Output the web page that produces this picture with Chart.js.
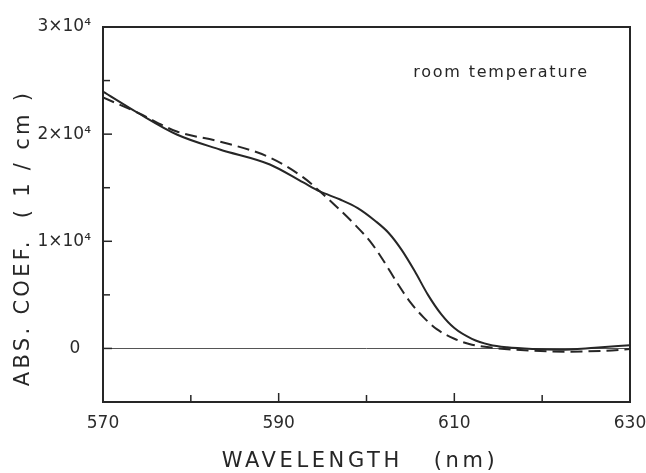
<!DOCTYPE html>
<html>
<head>
<meta charset="utf-8">
<script src="https://cdn.jsdelivr.net/npm/chart.js@4.4.1/dist/chart.umd.min.js"></script>
<style>
  html, body { margin: 0; padding: 0; background: #fff; }
  #wrap { width: 646px; height: 473px; }
</style>
</head>
<body>
<div id="wrap"><canvas id="absChart" width="646" height="473"></canvas></div>
<script>
// values (wavelength in nm, abs. coef. in 1/cm)
const solidX = [570.0, 573.9, 578.4, 583.3, 589.0, 592.8, 594.7, 597.0, 599.0, 601.0, 602.5, 604.0, 605.5, 607.0, 608.5, 610.0, 612.0, 614.0, 616.0, 619.0, 622.0, 626.0, 630.0];
const solidY = [23980, 22020, 19970, 18570, 17170, 15490, 14650, 13900, 13100, 11900, 10800, 9200, 7200, 5000, 3200, 1900, 900, 350, 100, -60, -120, 60, 300];
const dashX = [570.0, 573.9, 578.4, 583.3, 589.0, 592.8, 594.7, 596.5, 598.5, 600.5, 602.0, 603.5, 605.0, 606.5, 608.0, 610.0, 612.0, 614.5, 619.0, 623.0, 627.0, 630.0];
const dashY = [23420, 22020, 20250, 19310, 17820, 15960, 14650, 13300, 11700, 9900, 8100, 6100, 4300, 2900, 1800, 900, 350, 50, -220, -300, -220, -60];

const xTickLabels = [570, 590, 610, 630];
const yTickLabels = { 0: '0  ', 10000: '1×10⁴', 20000: '2×10⁴', 30000: '3×10⁴' };
const note = 'room temperature';
const xTitle = 'WAVELENGTH   (nm)';
const yTitle = 'ABS. COEF.  ( 1 / cm )';

const ink = '#262626';

function toPoints(xs, ys) {
    return xs.map((x, i) => ({ x: x, y: ys[i] }));
}

// box, inward ticks, titles and note
const framePlugin = {
    id: 'frame',
    afterDraw(chart) {
        const { ctx, chartArea: a, scales } = chart;
        ctx.save();
        ctx.strokeStyle = ink;
        ctx.lineWidth = 2;
        ctx.strokeRect(a.left, a.top, a.right - a.left, a.bottom - a.top);

        ctx.lineWidth = 1.5;
        scales.x.ticks.forEach(t => {
            if (t.value <= 570 || t.value >= 630) return;
            const px = scales.x.getPixelForValue(t.value);
            const len = xTickLabels.includes(t.value) ? 9 : 7;
            ctx.beginPath();
            ctx.moveTo(px, a.bottom);
            ctx.lineTo(px, a.bottom - len);
            ctx.stroke();
        });
        scales.y.ticks.forEach(t => {
            if (t.value <= -5000 || t.value >= 30000) return;
            const py = scales.y.getPixelForValue(t.value);
            const len = t.value % 10000 === 0 ? 9 : 7;
            ctx.beginPath();
            ctx.moveTo(a.left, py);
            ctx.lineTo(a.left + len, py);
            ctx.stroke();
        });

        ctx.fillStyle = ink;
        ctx.textBaseline = 'middle';

        ctx.font = '16px "DejaVu Sans"';
        ctx.letterSpacing = '1.8px';
        ctx.textAlign = 'right';
        ctx.fillText(note, 589, 73);

        ctx.font = '21px "DejaVu Sans"';
        ctx.letterSpacing = '3.6px';
        ctx.textAlign = 'center';
        ctx.fillText(xTitle, 360, 462);

        ctx.translate(24, 238);
        ctx.rotate(-Math.PI / 2);
        ctx.letterSpacing = '3.3px';
        ctx.fillText(yTitle, 0, 0);
        ctx.restore();
    }
};

window.onload = () => {
    new Chart(document.getElementById('absChart'), {
        type: 'line',
        data: {
            datasets: [{
                label: 'solid',
                data: toPoints(solidX, solidY),
                borderColor: ink,
                borderWidth: 2,
                pointRadius: 0,
                cubicInterpolationMode: 'monotone',
                fill: false
            }, {
                label: 'dashed',
                data: toPoints(dashX, dashY),
                borderColor: ink,
                borderWidth: 2,
                borderDash: [12, 6],
                pointRadius: 0,
                cubicInterpolationMode: 'monotone',
                fill: false
            }]
        },
        options: {
            responsive: false,
            animation: false,
            layout: { padding: { top: 27, right: 16, left: 0, bottom: 0 } },
            plugins: { legend: { display: false }, tooltip: { enabled: false } },
            scales: {
                x: {
                    type: 'linear',
                    min: 570,
                    max: 630,
                    afterFit: s => { s.height = 71; s.paddingRight = 0; s.paddingLeft = 0; },
                    grid: { display: false, drawTicks: false },
                    border: { display: false },
                    ticks: {
                        stepSize: 10,
                        padding: 11,
                        maxRotation: 0,
                        autoSkip: false,
                        color: '#2b2b2b',
                        font: { family: 'DejaVu Sans', size: 17 },
                        callback: v => xTickLabels.includes(v) ? String(v) : ''
                    }
                },
                y: {
                    min: -5000,
                    max: 30000,
                    afterFit: s => { s.width = 103; },
                    grid: {
                        drawTicks: false,
                        color: c => c.tick && c.tick.value === 0 ? '#555' : 'rgba(0,0,0,0)',
                        lineWidth: 1
                    },
                    border: { display: false },
                    ticks: {
                        stepSize: 5000,
                        padding: 12,
                        autoSkip: false,
                        color: '#2b2b2b',
                        font: { family: 'DejaVu Sans', size: 17 },
                        callback: v => yTickLabels[v] !== undefined ? yTickLabels[v] : ''
                    }
                }
            }
        },
        plugins: [framePlugin]
    });
};
</script>
</body>
</html>
